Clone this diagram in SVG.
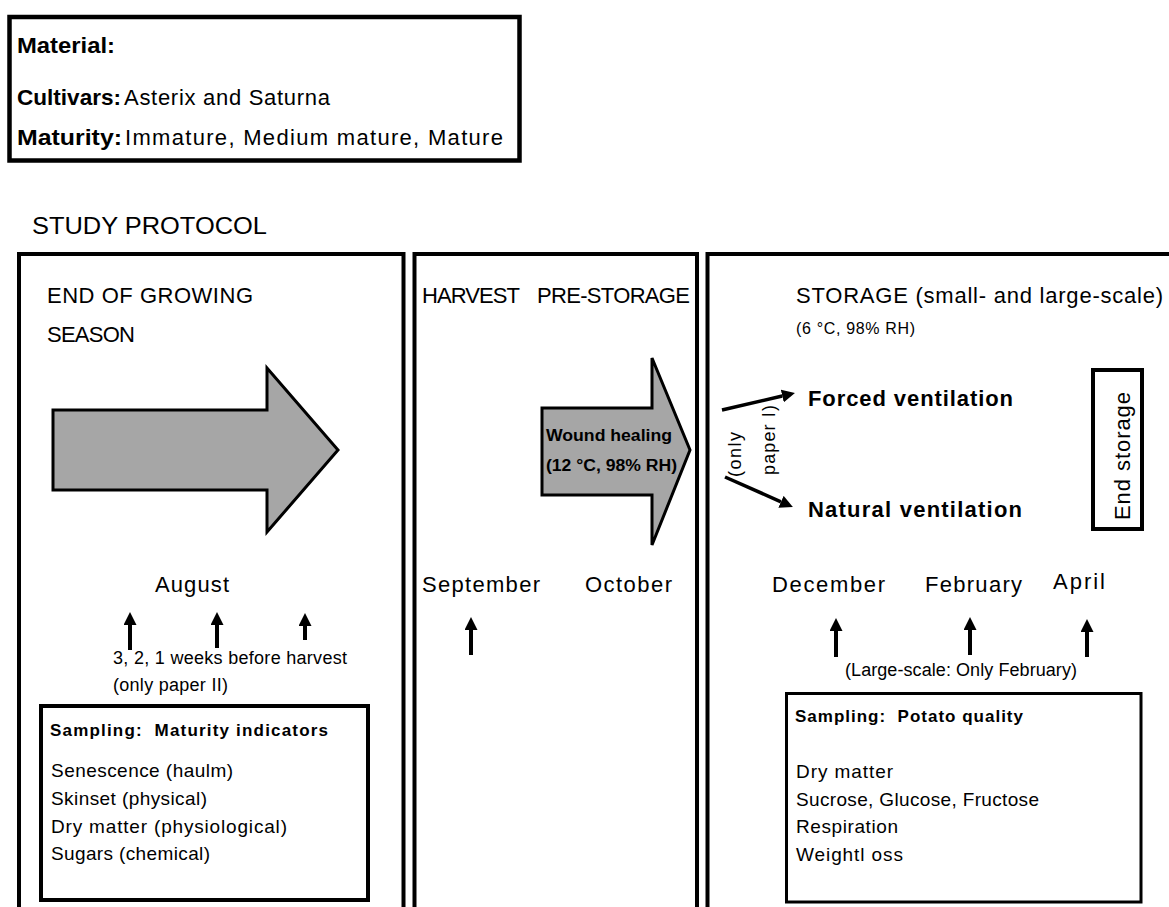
<svg xmlns="http://www.w3.org/2000/svg" width="1169" height="907" viewBox="0 0 1169 907">
<style>
.box{fill:#fff;stroke:#000;stroke-width:4}
.thin{fill:#fff;stroke:#000;stroke-width:3}
.blk{fill:#a6a6a6;stroke:#000;stroke-width:3;stroke-linejoin:miter}
text{font-family:"Liberation Sans",Arial,sans-serif;fill:#000}
.b{font-weight:bold}
.s22{font-size:22px}
.s19{font-size:19px}
.s18{font-size:18px}
.s17{font-size:17px}
.s16{font-size:16px}
.up{stroke:#000;stroke-width:4;fill:none}
.vent{stroke:#000;stroke-width:3.5;fill:none}
</style>
<defs>
<marker id="ah" viewBox="0 0 10 10" refX="0" refY="5" markerWidth="13" markerHeight="13" markerUnits="userSpaceOnUse" orient="auto">
<path d="M0,0 L10,5 L0,10 z" fill="#000"/>
</marker>
</defs>
<rect width="1169" height="907" fill="#fff"/>

<g id="material">
<rect class="box" x="9.5" y="17" width="510" height="143.5" style="stroke-width:4.5"/>
<text class="s22 b" x="17" y="53" textLength="98" lengthAdjust="spacingAndGlyphs">Material:</text>
<text class="s22 b" x="17" y="105" textLength="104" lengthAdjust="spacingAndGlyphs">Cultivars:</text>
<text class="s22" x="124" y="105" textLength="206">Asterix and Saturna</text>
<text class="s22 b" x="17" y="145" textLength="105" lengthAdjust="spacingAndGlyphs">Maturity:</text>
<text class="s22" x="125" y="145" textLength="378">Immature, Medium mature, Mature</text>
</g>

<g id="title">
<text x="32" y="234" style="font-size:24px" textLength="235" lengthAdjust="spacingAndGlyphs">STUDY PROTOCOL</text>
</g>

<g id="panel-growing">
<rect class="box" x="19" y="254" width="384.5" height="700"/>
<text class="s22" x="47" y="303" textLength="206">END OF GROWING</text>
<text class="s22" x="47" y="342" textLength="88">SEASON</text>
<polygon class="blk" points="53,410 267,410 267,368 338,450 267,532 267,490 53,490"/>
<text class="s22" x="155" y="592" textLength="74">August</text>
<text class="s18" x="113" y="664" textLength="234">3, 2, 1 weeks before harvest</text>
<text class="s18" x="113" y="691" textLength="115">(only paper II)</text>
</g>

<g id="sampling-maturity">
<rect class="box" x="41" y="706" width="327" height="194"/>
<text class="s17 b" x="50" y="736" textLength="278" xml:space="preserve">Sampling:  Maturity indicators</text>
<text class="s19" x="51" y="777" textLength="182">Senescence (haulm)</text>
<text class="s19" x="51" y="805" textLength="156">Skinset (physical)</text>
<text class="s19" x="51" y="833" textLength="236">Dry matter (physiological)</text>
<text class="s19" x="51" y="860" textLength="159">Sugars (chemical)</text>
</g>

<g id="panel-harvest">
<rect class="box" x="414.5" y="254" width="282.5" height="700"/>
<text class="s22" x="422" y="303" textLength="98">HARVEST</text>
<text class="s22" x="537" y="303" textLength="153">PRE-STORAGE</text>
<polygon class="blk" points="542,408 652,408 652,358 690,450 652,545 652,495 542,495"/>
<text class="s16 b" x="546" y="441" textLength="126" lengthAdjust="spacingAndGlyphs">Wound healing</text>
<text class="s16 b" x="546" y="471" textLength="131" lengthAdjust="spacingAndGlyphs">(12 °C, 98% RH)</text>
<text class="s22" x="422" y="592" textLength="118">September</text>
<text class="s22" x="585" y="592" textLength="87">October</text>
</g>

<g id="panel-storage">
<rect class="box" x="707.5" y="254" width="500" height="700"/>
<text class="s22" x="796" y="303" textLength="367">STORAGE (small- and large-scale)</text>
<text class="s16" x="796" y="334" textLength="119">(6 °C, 98% RH)</text>
<text class="s22 b" x="808" y="406" textLength="205">Forced ventilation</text>
<text class="s22 b" x="808" y="517" textLength="214">Natural ventilation</text>
<text class="s18" transform="translate(741,477) rotate(-90)" textLength="45">(only</text>
<text class="s18" transform="translate(775,475) rotate(-90)" textLength="70">paper I)</text>
<text class="s22" x="772" y="592" textLength="113">December</text>
<text class="s22" x="925" y="592" textLength="97">February</text>
<text class="s22" x="1053" y="589" textLength="52">April</text>
<text class="s18" x="845" y="676" textLength="232">(Large-scale: Only February)</text>
</g>

<g id="end-storage">
<rect class="box" x="1093" y="370" width="49" height="159"/>
<text class="s22" transform="translate(1130,456) rotate(-90)" text-anchor="middle" textLength="128">End storage</text>
</g>

<g id="sampling-quality">
<rect class="thin" x="786.5" y="693.5" width="354.5" height="208.5"/>
<text class="s17 b" x="795" y="722" textLength="228" xml:space="preserve">Sampling:  Potato quality</text>
<text class="s19" x="796" y="778" textLength="97">Dry matter</text>
<text class="s19" x="796" y="806" textLength="243">Sucrose, Glucose, Fructose</text>
<text class="s19" x="796" y="833" textLength="102">Respiration</text>
<text class="s19" x="796" y="861" textLength="107">Weightl oss</text>
</g>

<g id="connectors">
<line class="up" x1="130" y1="650" x2="130" y2="625" marker-end="url(#ah)"/>
<line class="up" x1="217" y1="648" x2="217" y2="625" marker-end="url(#ah)"/>
<line class="up" x1="305" y1="640" x2="305" y2="626" marker-end="url(#ah)"/>
<line class="up" x1="471" y1="655" x2="471" y2="630" marker-end="url(#ah)"/>
<line class="up" x1="836" y1="657" x2="836" y2="631" marker-end="url(#ah)"/>
<line class="up" x1="970" y1="655" x2="970" y2="630" marker-end="url(#ah)"/>
<line class="up" x1="1087" y1="657" x2="1087" y2="632" marker-end="url(#ah)"/>
<line class="vent" x1="722" y1="410" x2="782.3" y2="396" marker-end="url(#ah)"/>
<line class="vent" x1="725" y1="477" x2="781" y2="501.8" marker-end="url(#ah)"/>
</g>
</svg>
